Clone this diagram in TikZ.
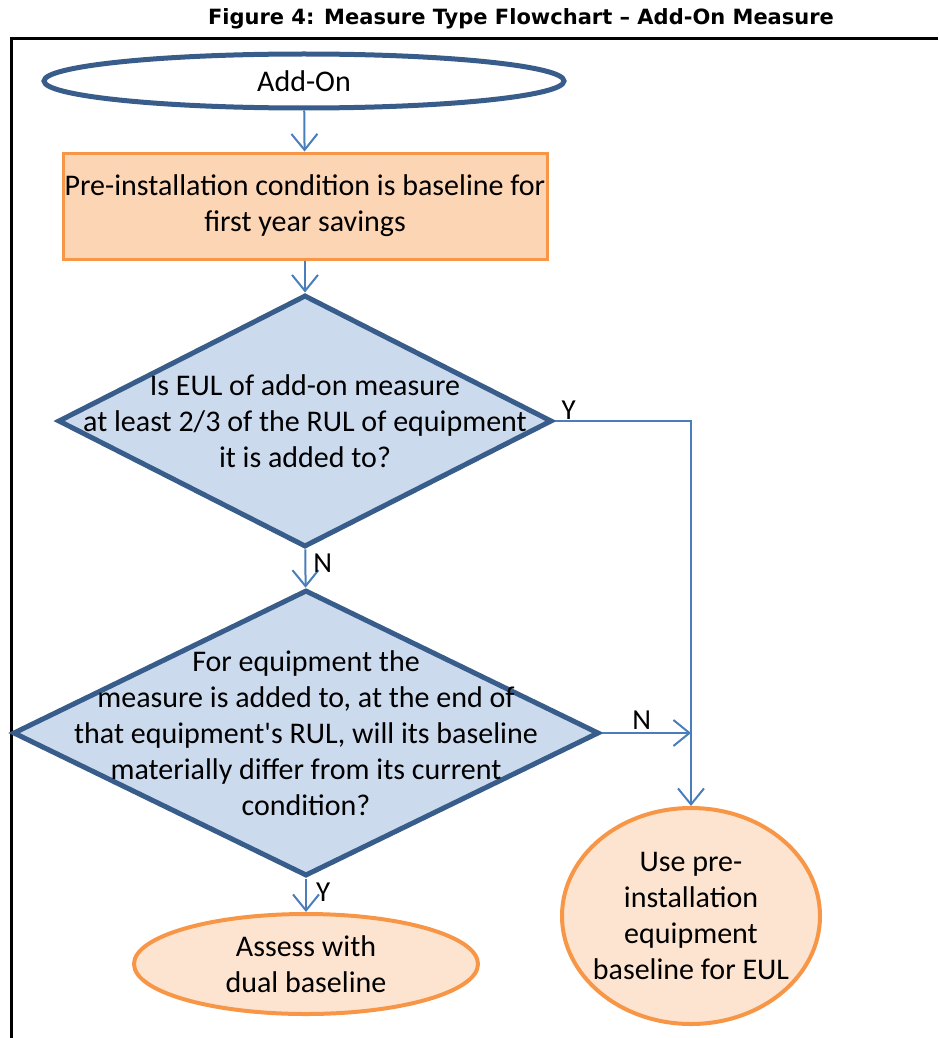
\documentclass[tikz,border=0pt]{standalone}
\usepackage{fontspec}
\setmainfont{Carlito}
\newfontfamily\titlefont{DejaVu Sans}
\usetikzlibrary{shapes.geometric,arrows.meta}

\definecolor{edgeblue}{HTML}{385D8A}
\definecolor{arrowblue}{HTML}{4A7EBB}
\definecolor{fillblue}{HTML}{CCDAEE}
\definecolor{edgeorange}{HTML}{F79646}
\definecolor{fillorange}{HTML}{FCD5B5}
\definecolor{paleorange}{HTML}{FDE4D0}

\tikzset{start_vertex/.style={ellipse, draw=edgeblue, line width=5pt, fill=white, inner sep=0pt, minimum width=520pt, minimum height=54pt}}
\tikzset{process_vertex/.style={rectangle, draw=edgeorange, line width=3pt, fill=fillorange, inner sep=0pt, minimum width=484pt, minimum height=106pt}}
\tikzset{decision_vertex/.style={diamond, draw=edgeblue, line width=5pt, fill=fillblue, inner sep=0pt}}
\tikzset{end_vertex/.style={ellipse, draw=edgeorange, line width=4pt, fill=paleorange, inner sep=0pt}}
\tikzset{vertex_text/.style={align=center, font=\fontsize{30}{36}\selectfont}}
\tikzset{edge_arrow/.style={color=arrowblue, line width=2pt, -{Straight Barb[length=16pt,width=26pt]}}}
\tikzset{edge_label/.style={text=black, font=\fontsize{29}{32}\selectfont, inner sep=3pt}}

\begin{document}
\begin{tikzpicture}[x=1pt,y=-1pt]
    \useasboundingbox (0,0) rectangle (938,1038);
    \node[anchor=base, inner sep=0pt] (title) at (521,25) {\titlefont\bfseries\fontsize{21}{26}\selectfont Figure 4: Measure Type Flowchart – Add-On Measure};
    \draw[line width=3pt] (938,39) -- (11,39) -- (11,1038);

    \node[start_vertex, label={[vertex_text]center:Add-On}] (start) at (304,81) {};
    \node[process_vertex, label={[vertex_text]center:Pre-installation condition is baseline for\\first year savings}] (pre) at (305,206) {};
    \node[decision_vertex, minimum width=494pt, minimum height=252pt,
          label={[vertex_text]center:Is EUL of add-on measure\\at least 2/3 of the RUL of equipment\\it is added to?}] (eul) at (305,421) {};
    \node[decision_vertex, minimum width=586pt, minimum height=286pt,
          label={[vertex_text]center:For equipment the\\measure is added to, at the end of\\that equipment\textquotesingle s RUL, will its baseline\\materially differ from its current\\condition?}] (differ) at (306,733) {};
    \node[end_vertex, minimum width=344pt, minimum height=100pt,
          label={[vertex_text]center:Assess with\\dual baseline}] (dual) at (306,964) {};
    \node[end_vertex, minimum width=258pt, minimum height=216pt,
          label={[vertex_text]center:Use pre-\\installation\\equipment\\baseline for EUL}] (use) at (691,916) {};

    \draw[edge_arrow] (start) -- (pre);
    \draw[edge_arrow] (pre) -- (eul);
    \draw[edge_arrow] (eul) -- node[edge_label, right, pos=0.35, xshift=4pt] {N} (differ);
    \draw[edge_arrow] (eul.east) node[edge_label, above right, inner sep=1pt, xshift=5pt] {Y} -| (use.north);
    \coordinate (join) at (differ.east -| use.north);
    \draw[edge_arrow] (differ.east) -- node[edge_label, above, pos=0.45] {N} (join);
    \draw[edge_arrow] (differ) -- node[edge_label, right, pos=0.4, xshift=6pt] {Y} (dual);
\end{tikzpicture}
\end{document}
